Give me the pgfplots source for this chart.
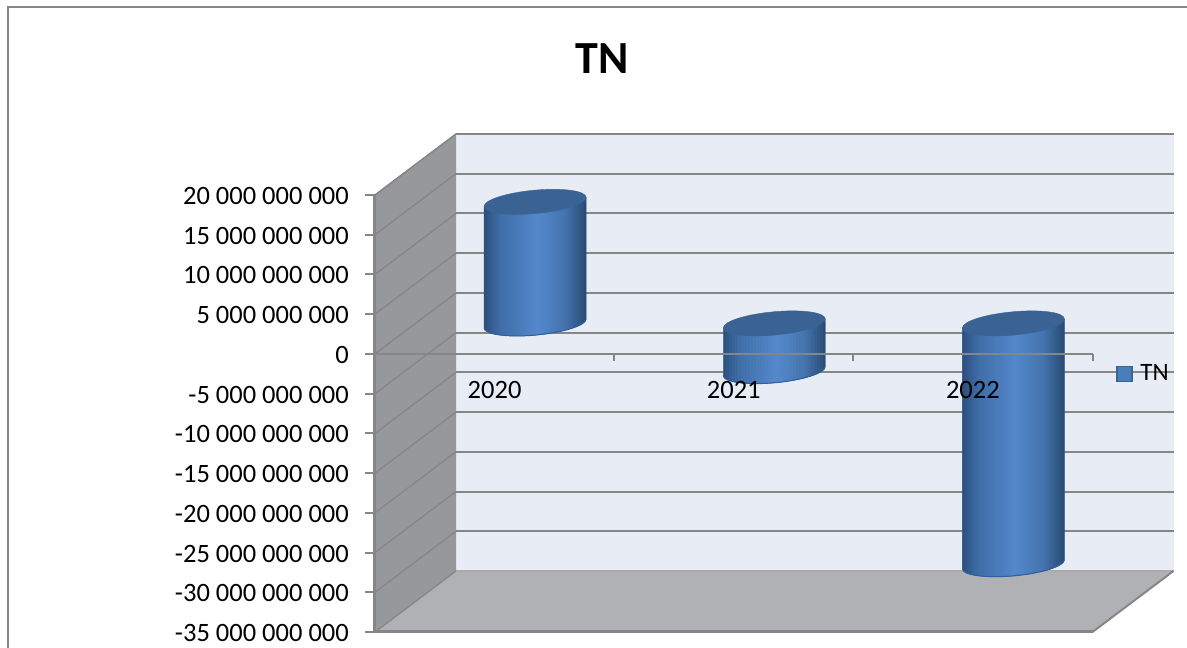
\documentclass[border=0pt]{standalone}
\usepackage{pgfplots}
\usepackage{pgfplotstable}
\pgfplotsset{compat=1.18}
\usepackage{fontspec}
\setmainfont{Carlito}

\definecolor{wallback}{HTML}{E8ECF5}
\definecolor{wallside}{HTML}{97989B}
\definecolor{wallfloor}{HTML}{AFB1B4}
\definecolor{rule}{HTML}{868686}
\definecolor{lid}{HTML}{3A6394}
\definecolor{rimcol}{HTML}{2F5E9C}
\definecolor{legendfill}{HTML}{4A7EBB}
\definecolor{legendedge}{HTML}{38649B}
% colour stops across the cylinder, left to right
\definecolor{cyla}{RGB}{44,80,126}
\definecolor{cylb}{RGB}{63,110,168}
\definecolor{cylc}{RGB}{84,136,204}
\definecolor{cyld}{RGB}{68,115,174}
\definecolor{cyle}{RGB}{40,74,114}

% depth of the plot box, in axis units (categories, billions)
\def\dx{0.3387}
\def\dy{7.68}

\pgfplotstableread{
x    v
0.5  15300000000
1.5  -6000000000
2.5  -30300000000
}\tntable

% picks the colour of the strip that starts at \sx
\newcommand{\stripcolour}{%
  \ifdim\sx pt<-35pt
    \pgfmathsetmacro{\pct}{(\sx+51)/16*100}\colorlet{stripc}{cylb!\pct!cyla}%
  \else\ifdim\sx pt<2pt
    \pgfmathsetmacro{\pct}{(\sx+35)/37*100}\colorlet{stripc}{cylc!\pct!cylb}%
  \else\ifdim\sx pt<30pt
    \pgfmathsetmacro{\pct}{(\sx-2)/28*100}\colorlet{stripc}{cyld!\pct!cylc}%
  \else
    \pgfmathsetmacro{\pct}{(\sx-30)/21*100}\colorlet{stripc}{cyle!\pct!cyld}%
  \fi\fi\fi}

% one cylinder: the mark sits at the value, the other end at the zero line;
% the whole shape leans upwards to the right
\newcommand{\drawcylinder}{%
  \pgfmathsetmacro{\h}{\val*7.945}%
  \pgfmathsetmacro{\ytop}{max(0,-\h)}%
  \pgfmathsetmacro{\ybot}{min(0,-\h)}%
  \foreach \sx in {-51,-49.5,...,49.5}{%
    \pgfmathsetmacro{\xe}{min(\sx+1.9,51)}%
    \pgfmathsetmacro{\ya}{\ybot+0.088*\sx-11.7*sqrt(max(0,1-(\sx/51)^2))}%
    \pgfmathsetmacro{\yb}{\ybot+0.088*\xe-11.7*sqrt(max(0,1-(\xe/51)^2))}%
    \pgfmathsetmacro{\yc}{\ytop+0.088*\xe}%
    \pgfmathsetmacro{\yd}{\ytop+0.088*\sx}%
    \stripcolour
    \fill[stripc] (\sx pt,\yd pt) -- (\sx pt,\ya pt) -- (\xe pt,\yb pt) -- (\xe pt,\yc pt) -- cycle;
  }%
  \fill[lid] (-51pt,{\ytop pt-4.488pt})
    .. controls (-51pt,{\ytop pt+1.972pt}) and (-28.17pt,{\ytop pt+9.221pt}) .. (0pt,{\ytop pt+11.7pt})
    .. controls (28.17pt,{\ytop pt+14.179pt}) and (51pt,{\ytop pt+10.948pt}) .. (51pt,{\ytop pt+4.488pt})
    .. controls (51pt,{\ytop pt-1.972pt}) and (28.17pt,{\ytop pt-9.221pt}) .. (0pt,{\ytop pt-11.7pt})
    .. controls (-28.17pt,{\ytop pt-14.179pt}) and (-51pt,{\ytop pt-10.948pt}) .. (-51pt,{\ytop pt-4.488pt}) -- cycle;
  \draw[rimcol,line width=1pt] (51pt,{\ybot pt+4.488pt})
    .. controls (51pt,{\ybot pt-1.972pt}) and (28.17pt,{\ybot pt-9.221pt}) .. (0pt,{\ybot pt-11.7pt})
    .. controls (-28.17pt,{\ybot pt-14.179pt}) and (-51pt,{\ybot pt-10.948pt}) .. (-51pt,{\ybot pt-4.488pt});
}

\pgfplotsset{
  chartbox/.style={
    at={(0pt,0pt)},anchor=south west,
    scale only axis,width=717.5pt,height=437pt,
    xmin=0,xmax=3,ymin=-35,ymax=20,clip=false},
}

\begin{document}
\fontsize{26.5}{30}\selectfont
\begin{tikzpicture}[x=1pt,y=1pt]
  \path[use as bounding box] (-375pt,-16pt) rectangle (812pt,632pt);
  % outer chart frame, open towards the right and the bottom
  \begin{scope}
    \clip (-375pt,-16pt) rectangle (812pt,632pt);
    \draw[rule,line width=2pt] (-367pt,-30pt) -- (-367pt,625pt) -- (830pt,625pt);
  \end{scope}
  \node[font=\fontsize{46}{50}\selectfont\bfseries,anchor=center] at (227pt,573pt) {TN};

  % walls, floor, gridlines and value axis
  \begin{axis}[chartbox,
      axis line style={draw=none},
      xtick=\empty,
      ytick={-35,-30,...,20},
      yticklabels={-35 000 000 000,-30 000 000 000,-25 000 000 000,-20 000 000 000,
        -15 000 000 000,-10 000 000 000,-5 000 000 000,0,5 000 000 000,
        10 000 000 000,15 000 000 000,20 000 000 000},
      y tick label style={font=\fontsize{26.5}{30}\selectfont,inner sep=0pt,xshift=-16pt,yshift=-1pt},
      ytick style={draw=rule,line width=2pt},
      tick align=outside,major tick length=10pt,
      ytick pos=left,
    ]
    \addplot[fill=wallback,draw=none] coordinates
      {(\dx,20+\dy) (3+\dx,20+\dy) (3+\dx,-35+\dy) (\dx,-35+\dy)} \closedcycle;
    \fill[wallback] (axis cs:\dx,{20+\dy}) rectangle (axis cs:{3+\dx},{-35+\dy});
    \fill[wallside] (axis cs:0,20) -- (axis cs:\dx,{20+\dy}) -- (axis cs:\dx,{-35+\dy}) -- (axis cs:0,-35) -- cycle;
    \fill[wallfloor] (axis cs:0,-35) -- (axis cs:3,-35) -- (axis cs:{3+\dx},{-35+\dy}) -- (axis cs:\dx,{-35+\dy}) -- cycle;
    \pgfplotsinvokeforeach{-30,-25,...,20}{
      \draw[rule,line width=1.3pt] (axis cs:0,#1) -- (axis cs:\dx,{#1+\dy});
      \draw[rule,line width=2pt] (axis cs:\dx,{#1+\dy}) -- (axis cs:{3+\dx},{#1+\dy});
    }
    \draw[rule,line width=1.3pt] (axis cs:0,-35) -- (axis cs:\dx,{-35+\dy});
    \draw[rule!70,line width=1.6pt] (axis cs:\dx,{-35+\dy}) -- (axis cs:{3+\dx},{-35+\dy});
    \draw[rule,line width=2pt] (axis cs:3,-35) -- (axis cs:{3+\dx},{-35+\dy});
    \draw[rule,line width=3pt] (axis cs:0,-35) -- (axis cs:3,-35);
    \draw[rule,line width=3pt] (axis cs:0,20) -- (axis cs:0,-35);
    \draw[rule,line width=1.3pt] (axis cs:0,20) -- (axis cs:\dx,{20+\dy});
  \end{axis}

  % cylinders stand halfway into the depth of the box
  \begin{axis}[chartbox,at={(40.5pt,30.5pt)},hide axis,
      legend style={at={(axis cs:2.93,-6.4)},anchor=west,draw=none,fill=none,
        font=\fontsize{25}{28}\selectfont,inner sep=0pt},
      legend image code/.code={
        \draw[fill=legendfill,draw=legendedge,line width=1.5pt] (0pt,-7pt) rectangle (15pt,8pt);
        \path (21pt,0pt);},
    ]
    \addplot[
      scatter,only marks,mark=*,mark size=0pt,
      mark options={draw=none,fill=none},
      visualization depends on={y \as \val},
      scatter/@pre marker code/.code={\drawcylinder},
      scatter/@post marker code/.code={},
    ] table[x=x,y expr=\thisrow{v}/1e9] {\tntable};
    \addlegendentry{TN}
  \end{axis}

  % category axis crosses in front of the cylinders
  \begin{axis}[chartbox,
      axis y line=none,
      axis x line=middle,
      axis line style={draw=rule,line width=2.4pt,-},
      xtick={1,2,3},
      xticklabels={},
      extra x ticks={0.5,1.5,2.5},
      extra x tick labels={2020,2021,2022},
      extra x tick style={major tick length=0pt},
      x tick label style={font=\fontsize{26.5}{30}\selectfont,inner sep=0pt,yshift=-27pt},
      xtick style={draw=rule,line width=2pt},
      tick align=outside,major tick length=7pt,
    ]
    \addplot[draw=none] coordinates {(0,0) (3,0)};
  \end{axis}
\end{tikzpicture}
\end{document}
